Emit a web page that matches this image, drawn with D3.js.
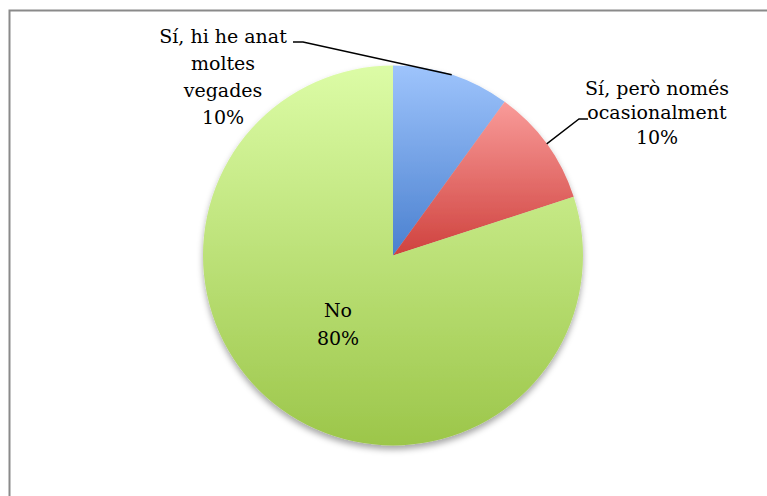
<!DOCTYPE html>
<html>
<head>
<meta charset="utf-8">
<script src="https://cdn.jsdelivr.net/npm/d3@7"></script>
<style>
  body { margin: 0; background: #fff; }
  text { font-family: "DejaVu Serif", serif; font-size: 19px; fill: #000; }
</style>
</head>
<body>
<div id="chart-area"></div>
<script>
// chart values
const labels = [["Sí, hi he anat", "moltes", "vegades"], ["Sí, però només", "ocasionalment"], ["No"]];
const values = [10, 10, 80];
const pctLabels = ["10%", "10%", "80%"];
const topColors = ["#9ec4fc", "#f99b99", "#dcfca6"];
const bottomColors = ["#4a80cf", "#cf423e", "#9cc64a"];

const width = 767, height = 496;
const cx = 393, cy = 255.5, radius = 190;

const svg = d3.select("#chart-area").append("svg")
  .attr("width", width)
  .attr("height", height);

// frame (clipped right / bottom like the screenshot)
svg.append("path")
  .attr("d", "M9.5,500 L9.5,10.5 L770,10.5")
  .attr("fill", "none")
  .attr("stroke", "#8a8a8a")
  .attr("stroke-width", 2);

const defs = svg.append("defs");

const shadow = defs.append("filter").attr("id", "shadow")
  .attr("x", "-10%").attr("y", "-10%").attr("width", "120%").attr("height", "125%");
shadow.append("feDropShadow")
  .attr("dx", 0).attr("dy", 4)
  .attr("stdDeviation", 3)
  .attr("flood-color", "#000")
  .attr("flood-opacity", 0.35);

topColors.forEach(function (c, i) {
  const g = defs.append("linearGradient").attr("id", "grad" + i)
    .attr("x1", 0).attr("y1", 0).attr("x2", 0).attr("y2", 1);
  g.append("stop").attr("offset", "0%").attr("stop-color", c);
  g.append("stop").attr("offset", "100%").attr("stop-color", bottomColors[i]);
});

const pie = d3.pie().sort(null).value(function (d) { return d; });
const arcs = pie(values);
const arc = d3.arc().innerRadius(0).outerRadius(radius);

const g = svg.append("g").attr("transform", "translate(" + cx + "," + cy + ")");

g.append("g").attr("filter", "url(#shadow)")
  .selectAll("path")
  .data(arcs).enter().append("path")
  .attr("d", arc)
  .attr("fill", function (d, i) { return "url(#grad" + i + ")"; });

// leader lines (label anchor -> slice mid edge)
const leaders = [
  { start: [-100, -213.5], knee: [-90, -213.5], slice: 0 },
  { start: [195, -136.5], knee: [186, -136.5], slice: 1 }
];
leaders.forEach(function (l) {
  const a = arcs[l.slice];
  const mid = (a.startAngle + a.endAngle) / 2;
  const ex = Math.sin(mid) * radius, ey = -Math.cos(mid) * radius;
  g.append("polyline")
    .attr("points", [l.start, l.knee, [ex, ey]].map(function (p) { return p.join(","); }).join(" "))
    .attr("fill", "none")
    .attr("stroke", "#000")
    .attr("stroke-width", 1.4);
});

// labels
const labelPos = [
  { x: -170, y: -212.5, lh: 27 },
  { x: 264, y: -161, lh: 24.5 },
  { x: -55, y: 61.5, lh: 28 }
];
labelPos.forEach(function (p, i) {
  const lines = labels[i].concat([pctLabels[i]]);
  const t = g.append("text").attr("text-anchor", "middle");
  lines.forEach(function (s, k) {
    t.append("tspan").attr("x", p.x).attr("y", p.y + k * p.lh).text(s);
  });
});
</script>
</body>
</html>
